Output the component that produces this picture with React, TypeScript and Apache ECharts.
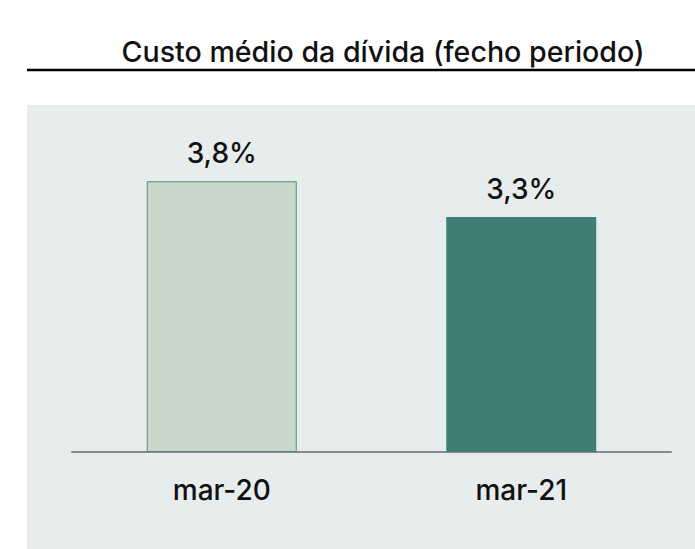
import React, { useEffect, useRef } from "react";
import * as echarts from "echarts";

const title = "Custo médio da dívida (fecho periodo)";
const categories = ["mar-20", "mar-21"];
const values = [3.8, 3.3];
const barColors = ["#C9D8C8", "#3F7F76"];
const FONT = "Inter, 'Open Sans', sans-serif";

export default function App() {
  const ref = useRef<HTMLDivElement>(null);
  useEffect(() => {
    if (!ref.current) return;
    const chart = echarts.init(ref.current, undefined, { renderer: "svg" });
    chart.setOption({
      animation: false,
      graphic: [
        {
          type: "rect",
          z: -10,
          shape: { x: 27, y: 105, width: 668, height: 444 },
          style: { fill: "#E7ECEC" },
          silent: true,
        },
        {
          type: "rect",
          z: 10,
          shape: { x: 27, y: 68.8, width: 668, height: 2.5 },
          style: { fill: "#000000" },
          silent: true,
        },
      ],
      title: {
        text: title,
        left: 378,
        top: 32,
        textAlign: "center",
        textStyle: {
          fontFamily: FONT,
          fontSize: 28.6,
          fontWeight: 500,
          color: "#111111",
        },
      },
      grid: { left: 72, right: 24, top: 167, bottom: 97 },
      xAxis: {
        type: "category",
        data: categories,
        axisLine: { show: true, lineStyle: { color: "#8A8A8A", width: 2 } },
        axisTick: { show: false },
        axisLabel: {
          margin: 24,
          fontFamily: FONT,
          fontSize: 28,
          fontWeight: 500,
          color: "#111111",
        },
      },
      yAxis: {
        type: "value",
        min: 0,
        max: 4,
        show: false,
        splitLine: { show: false },
      },
      series: [
        {
          type: "bar",
          barWidth: 150,
          data: values.map((v, i) => ({
            value: v,
            itemStyle: {
              color: barColors[i],
              borderColor: i === 0 ? "#4F8C80" : barColors[i],
              borderWidth: i === 0 ? 1 : 0,
            },
          })),
          label: {
            show: true,
            position: "top",
            distance: 14,
            fontFamily: FONT,
            fontSize: 28,
            fontWeight: 500,
            color: "#111111",
            formatter: (p: any) => `${Number(p.value).toFixed(1).replace(".", ",")}%`,
          },
        },
      ],
    });
    return () => chart.dispose();
  }, []);
  return (
    <div
      ref={ref}
      style={{ position: "absolute", left: 0, top: 0, width: 695, height: 549 }}
    />
  );
}
